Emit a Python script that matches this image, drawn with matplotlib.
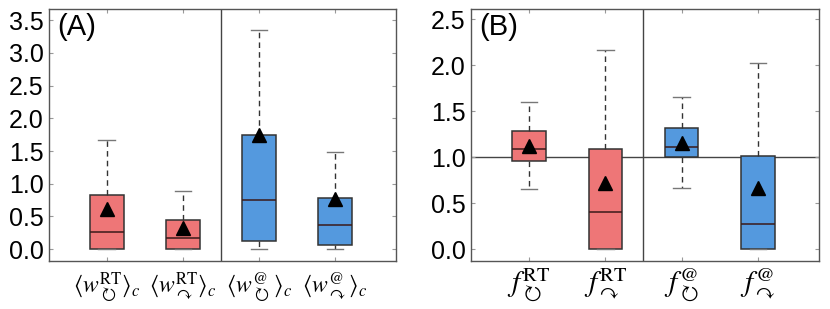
import matplotlib
matplotlib.use("Agg")
import matplotlib.pyplot as plt

plt.rcParams["font.family"] = ["Liberation Sans", "DejaVu Sans"]
plt.rcParams["mathtext.fontset"] = "stix"

RED = "#EE7677"
BLUE = "#5499DE"

# panel A: <w>_c statistics
a_labels = [
    r"$\langle w^{\rm RT}_{\circlearrowright}\rangle_c$",
    r"$\langle w^{\rm RT}_{\curvearrowright}\rangle_c$",
    r"$\langle w^{@}_{\circlearrowright}\rangle_c$",
    r"$\langle w^{@}_{\curvearrowright}\rangle_c$",
]
a_whislo = [0.0, 0.0, 0.0, 0.0]
a_q1 = [0.0, 0.0, 0.13, 0.07]
a_med = [0.26, 0.17, 0.75, 0.37]
a_q3 = [0.83, 0.45, 1.75, 0.79]
a_whishi = [1.67, 0.89, 3.35, 1.49]
a_mean = [0.61, 0.33, 1.75, 0.77]

# panel B: f statistics
b_labels = [
    r"$f^{\rm RT}_{\circlearrowright}$",
    r"$f^{\rm RT}_{\curvearrowright}$",
    r"$f^{@}_{\circlearrowright}$",
    r"$f^{@}_{\curvearrowright}$",
]
b_whislo = [0.65, 0.0, 0.67, 0.0]
b_q1 = [0.96, 0.0, 1.0, 0.0]
b_med = [1.09, 0.40, 1.11, 0.28]
b_q3 = [1.28, 1.09, 1.32, 1.01]
b_whishi = [1.60, 2.17, 1.65, 2.02]
b_mean = [1.12, 0.72, 1.15, 0.67]

box_colors = [RED, RED, BLUE, BLUE]


def draw_panel(ax, labels, whislo, q1, med, q3, whishi, mean, ylim, yticks,
               tag, xlabel_size, xpad):
    stats = []
    for i in range(len(labels)):
        stats.append(
            dict(whislo=whislo[i], q1=q1[i], med=med[i], q3=q3[i],
                 whishi=whishi[i], mean=mean[i], label=labels[i])
        )
    positions = list(range(1, len(labels) + 1))
    bp = ax.bxp(
        stats,
        positions=positions,
        widths=0.44,
        patch_artist=True,
        showmeans=True,
        showfliers=False,
        boxprops=dict(edgecolor="#333333", linewidth=1.1),
        medianprops=dict(color="#3a1a1a", linewidth=1.1),
        whiskerprops=dict(color="#333333", linestyle=(0, (4, 3)), linewidth=1.0),
        capprops=dict(color="#777777", linewidth=1.0),
        meanprops=dict(marker="^", markerfacecolor="black",
                       markeredgecolor="black", markersize=10),
        capwidths=0.22,
    )
    for patch, c in zip(bp["boxes"], box_colors):
        patch.set_facecolor(c)

    ax.axvline(2.5, color="#444444", linewidth=1.0, zorder=0)
    ax.set_xlim(0.24, 4.8)
    ax.set_ylim(*ylim)
    ax.set_yticks(yticks)
    ax.set_yticklabels([f"{t:.1f}" for t in yticks], fontsize=18)
    ax.set_xticks(positions)
    ax.set_xticklabels(labels, fontsize=xlabel_size)
    ax.tick_params(axis="both", direction="in", color="#999999", length=3,
                   top=True, right=True)
    ax.tick_params(axis="x", pad=xpad)
    ax.tick_params(axis="y", pad=4)
    for s in ax.spines.values():
        s.set_color("#555555")
        s.set_linewidth(1.0)
    ax.text(0.025, 0.985, tag, transform=ax.transAxes, fontsize=21,
            ha="left", va="top")


fig = plt.figure(figsize=(8.3, 3.09), dpi=100)
ax_a = fig.add_axes([49 / 830, 1 - 261 / 309, 347 / 830, 252 / 309])
ax_b = fig.add_axes([471 / 830, 1 - 261 / 309, 348 / 830, 252 / 309])

draw_panel(ax_a, a_labels, a_whislo, a_q1, a_med, a_q3, a_whishi, a_mean,
           (-0.18, 3.67), [0.0, 0.5, 1.0, 1.5, 2.0, 2.5, 3.0, 3.5], "(A)",
           17, 7)
draw_panel(ax_b, b_labels, b_whislo, b_q1, b_med, b_q3, b_whishi, b_mean,
           (-0.127, 2.61), [0.0, 0.5, 1.0, 1.5, 2.0, 2.5], "(B)", 21, 4)
ax_b.axhline(1.0, color="#444444", linewidth=1.0, zorder=0)

fig.savefig("out.png", dpi=100)
